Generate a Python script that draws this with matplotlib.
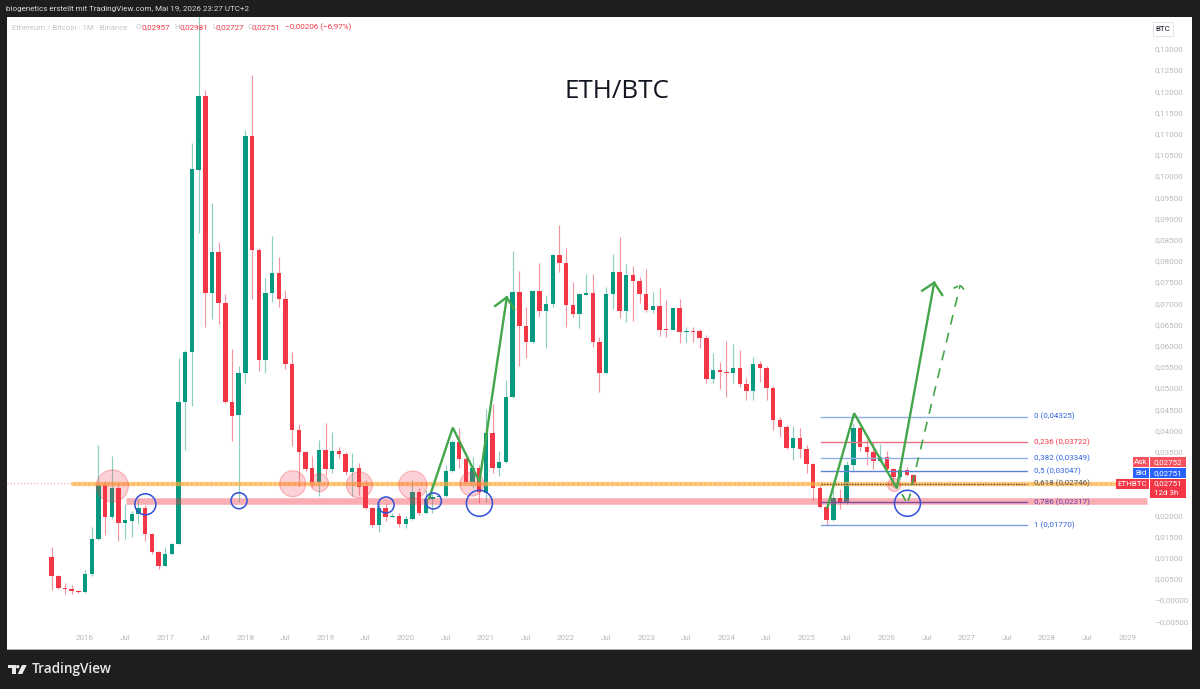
import numpy as np
import matplotlib
matplotlib.use('Agg')
import matplotlib.pyplot as plt
from matplotlib.patches import Rectangle, Polygon, Circle
from matplotlib.transforms import Affine2D

W, H = 1200, 689

# monthly candles, month index 0 = Jan 2016
months = np.arange(-5, 125)
opens = [.01007, .00566, .0029, .0027, .0022, .0020, .0061, .0143, .0271, .0196,
         .0264, .0182, .0187, .0202, .0216, .0156, .0114, .0080, .0108, .0132,
         .04677, .05842, .10142, .11894, .07233, .0820, .06998, .04677, .04363, .05347,
         .10943, .08255, .0566, .07248, .07719, .07092, .05566, .0401, .03498, .03106,
         .0279, .03538, .03083, .03521, .03436, .03019, .03106, .02689, .02163, .01769,
         .02163, .01965, .01981, .01785, .0191, .02554, .02045, .02375, .02436, .02453,
         .03042, .03719, .03325, .0279, .03106, .02524, .03946, .03106, .03248, .04795,
         .07271, .06469, .06092, .07288, .06823, .06981, .08137, .07941, .06958, .06745,
         .072, .07233, .06078, .05361, .0721, .07743, .06823, .07665, .07524, .0721,
         .0684, .06934, .06392, .06375, .06878, .06328, .06344, .06344, .06186, .05212,
         .05425, .05377, .05347, .05465, .05094, .04936, .05559, .05465, .04993, .04245,
         .04087, .03578, .03828, .03554, .03208, .02634, .02186, .01887, .02399, .02295,
         .03184, .0405, .03616, .03498, .03285, .0338, .0309, .02894, .03066, .02957]
highs = [.01257, .0059, .0039, .0036, .0024, .0071, .0171, .0366, .0281, .0340,
         .0275, .0226, .0210, .0238, .0224, .0159, .0116, .0126, .0135, .05708,
         .0590, .10778, .1560, .12028, .09363, .0845, .07217, .05913, .05519, .11085,
         .12382, .0829, .07594, .08585, .08097, .07311, .05856, .04151, .03521, .03396,
         .03774, .04167, .03969, .03601, .03498, .03474, .03224, .0283, .02186, .02295,
         .02295, .02059, .02045, .01988, .0283, .02634, .02594, .02517, .0247, .03184,
         .03774, .0405, .0342, .0338, .03184, .04498, .04623, .03521, .05189, .08238,
         .07767, .06917, .07311, .07955, .07193, .0816, .08844, .08295, .07507, .07248,
         .07689, .07689, .06196, .07389, .0816, .08568, .07925, .07884, .07611, .078,
         .07271, .07351, .07075, .0691, .07092, .06432, .06446, .06384, .0625, .05818,
         .0562, .06108, .06038, .05896, .05229, .05738, .05644, .05526, .05047, .04323,
         .04127, .04104, .04068, .03656, .03231, .02736, .02217, .02594, .02611, .03278,
         .04175, .04104, .03774, .03733, .03672, .03514, .03113, .03184, .03144, .02981]
lows = [.00236, .0025, .0014, .0014, .0017, .0017, .0057, .0142, .0153, .0190,
        .0138, .0145, .0149, .0179, .0140, .0108, .0074, .0079, .0105, .0131,
        .03538, .04575, .08663, .06446, .0662, .0651, .04646, .03757, .02318, .05111,
        .07099, .05401, .05361, .07035, .0691, .05441, .03632, .027, .0305, .02658,
        .02453, .02948, .03002, .03349, .02948, .02453, .02476, .02139, .01715, .01611,
        .0187, .0195, .01715, .01691, .01887, .02005, .02028, .02045, .0242, .02429,
        .03026, .03106, .02752, .02642, .02281, .02318, .02988, .02925, .03231, .04764,
        .05519, .057, .06061, .06667, .05936, .06917, .07743, .06446, .06667, .06408,
        .07193, .05974, .04913, .0533, .06863, .06644, .0655, .06587, .06998, .06785,
        .06776, .06233, .0621, .06368, .06054, .06092, .06092, .05936, .05111, .05111,
        .04976, .04795, .05111, .05031, .04717, .04717, .05149, .04717, .04009, .03837,
        .03561, .03302, .03349, .02988, .02358, .02163, .01769, .0187, .02139, .02264,
        .03026, .03521, .03184, .0309, .03262, .03066, .02672, .0283, .02925, .02727]
closes = [.00566, .0029, .0026, .0021, .0020, .0061, .0143, .0271, .0196, .0264,
          .0182, .0189, .0202, .0216, .0155, .0112, .0080, .0108, .0132, .04677,
          .05842, .10158, .11894, .07233, .0820, .06998, .04677, .0434, .05347, .10943,
          .08255, .0566, .07248, .07719, .07092, .05566, .0401, .03498, .03083, .0279,
          .03538, .03083, .03521, .03436, .03026, .03106, .02672, .02163, .01769, .02163,
          .01965, .01988, .01785, .0191, .02554, .02045, .02375, .02436, .02453, .03042,
          .03719, .03325, .0279, .03106, .02554, .03946, .03106, .03248, .04795, .07271,
          .06469, .06092, .07288, .06823, .06981, .08137, .07941, .06958, .06745, .0721,
          .07233, .06078, .05361, .0721, .07743, .06823, .07665, .07524, .0721, .0684,
          .06934, .06368, .06375, .06894, .06328, .06344, .06328, .06186, .05212, .05425,
          .05377, .05347, .05465, .05094, .04936, .05559, .05465, .04993, .04245, .04087,
          .03578, .03828, .03554, .03208, .02634, .02186, .01887, .02399, .02295, .03184,
          .0405, .03616, .03498, .03285, .0338, .0309, .02894, .03066, .02957, .02751]

fib_ratios = ['0', '0,236', '0,382', '0,5', '0,618', '0,786', '1']
fib_prices = [.04325, .03722, .03349, .03047, .02746, .02317, .01770]
fib_line_colors = ['#8fb0ea', '#e8737f', '#8fb0ea', '#5f85d8', '#5a4a3a', '#7b4ea3', '#7f9fe0']
fib_text_colors = ['#2f62e0', '#f23645', '#2f62e0', '#2f62e0', '#555555', '#6a3fa8', '#2f62e0']

# support / resistance zones
orange_band = ([-1.84, 154.3], [.02737, .02737])
pink_band = ([6.14, 159.0], [.02335, .02335])

pink_x = [4.09, 31.09, 35.07, 41.06, 49.06, 57.89, 121.1]
pink_y = [.02689, .02743, .02767, .02712, .02712, .02736, .02712]
pink_d = [32, 26, 18, 26, 28, 24, 13]

blue_x = [9.03, 23.05, 45.06, 52.14, 59.03, 123.1]
blue_y = [.02257, .02342, .02241, .02335, .02281, .02281]
blue_d = [21, 16, 16, 16, 26, 26]

swing1_x = [51.5, 55.04, 59.03, 63.13]
swing1_y = [.02399, .04064, .0279, .07139]
head1_x = [61.38, 63.13, 64.22]
head1_y = [.06934, .07139, .06856]
swing2_x = [111.12, 115.12, 121.5, 127.1]
swing2_y = [.02186, .04403, .02634, .07484]
head2_x = [125.3, 127.1, 128.3]
head2_y = [.07295, .07484, .07193]
dashed_x = [123.76, 130.99]
dashed_y = [.02712, .07429]
head3_x = [129.99, 130.99, 131.84]
head3_y = [.07351, .07429, .07271]
tick_x = [122.35, 122.75, 123.25, 123.5]
tick_y = [.02476, .02358, .02358, .02493]

year_ticks = np.arange(0, 157, 12)
year_labels = ['2016', '2017', '2018', '2019', '2020', '2021', '2022', '2023',
               '2024', '2025', '2026', '2027', '2028', '2029']
jul_ticks = np.arange(6, 157, 12)
# 0.025 and 0.030 sit behind the price tags, so they get no label
price_ticks = [-0.005, 0.0, 0.005, 0.01, 0.015, 0.02, 0.035, 0.04, 0.045, 0.05, 0.055,
               0.06, 0.065, 0.07, 0.075, 0.08, 0.085, 0.09, 0.095, 0.10, 0.105, 0.11,
               0.115, 0.12, 0.125, 0.13]

GREEN = '#089981'
RED = '#F23645'
GREEN_WICK = '#8fcfc2'
RED_WICK = '#f593a0'
LINE_GREEN = '#43a64a'
GRAY_TXT = '#b6b9bf'
DARK = '#1e1e1e'
SMALL = 5.8

plt.rcParams['font.family'] = ['Roboto', 'DejaVu Sans']

fig = plt.figure(figsize=(12, 6.89), dpi=100, facecolor=DARK)
# pixel coordinates with the origin top left, for the window chrome
pix = Affine2D().scale(1 / W, -1 / H).translate(0, 1) + fig.transFigure


def box(x0, y0, x1, y1, color, **kw):
    fig.add_artist(Rectangle((x0, y0), x1 - x0, y1 - y0, transform=pix,
                             facecolor=color, edgecolor='none', **kw))


def label(x, y, s, size=SMALL, color='white', ha='left', **kw):
    fig.text(x, y, s, transform=pix, fontsize=size, color=color, ha=ha, va='center', **kw)


box(7, 17, 1192, 649, 'white', zorder=-5)
box(7, 649, 1192, 650, '#a8a8a8', zorder=-5)

ax = fig.add_axes([7 / W, 1 - 649 / H, 1141 / W, 632 / H], facecolor='none')
ax.set_xlim(-11.68, 159.1)
ax.set_ylim(-0.01156, 0.1375)
for sp in ax.spines.values():
    sp.set_visible(False)

# candles
for m, o, h, l, c in zip(months, opens, highs, lows, closes):
    up = c >= o
    ax.vlines(m, l, h, color=GREEN_WICK if up else RED_WICK, lw=0.85, zorder=2)
    ax.bar(m, abs(c - o), bottom=min(o, c), width=0.66,
           color=GREEN if up else RED, zorder=2.5)

# last price line
ax.axhline(closes[-1], color='#f4a0a8', lw=0.8, ls=(0, (1, 2)), zorder=1)

# zones
ax.plot(*orange_band, color='#ffb74d', lw=3.2, alpha=0.65, solid_capstyle='round', zorder=3)
ax.plot(*orange_band, color='#ff9800', lw=2.2, alpha=0.3, ls=(0, (0.8, 0.8)), zorder=3)
ax.plot(*pink_band, color=RED, lw=4.75, alpha=0.4, solid_capstyle='butt', zorder=3)

ax.scatter(pink_x, pink_y, s=(np.array(pink_d) * 0.72) ** 2, facecolor=(0.95, 0.21, 0.27, 0.22),
           edgecolor=(0.95, 0.21, 0.27, 0.3), lw=0.9, zorder=4)
ax.scatter(blue_x, blue_y, s=(np.array(blue_d) * 0.72) ** 2, facecolor='none',
           edgecolor='#2f50d8', lw=1.1, zorder=6)

# fibonacci retracement
for ratio, price, lc, tc in zip(fib_ratios, fib_prices, fib_line_colors, fib_text_colors):
    ax.plot([110.2, 141.0], [price, price], color=lc, lw=1.0,
            ls=(0, (1, 1)) if ratio == '0,618' else '-', zorder=3.5)
    ax.text(142.0, price, ratio + ' (' + f'{price:.5f}'.replace('.', ',') + ')',
            color=tc, fontsize=SMALL, va='center', ha='left', zorder=7)

# projected swings
for xs, ys in [(swing1_x, swing1_y), (head1_x, head1_y), (swing2_x, swing2_y), (head2_x, head2_y)]:
    ax.plot(xs, ys, color=LINE_GREEN, lw=1.7, solid_joinstyle='miter', zorder=5)
ax.plot(dashed_x, dashed_y, color=LINE_GREEN, lw=1.2, ls=(0, (6, 5)), zorder=5)
ax.plot(head3_x, head3_y, color=LINE_GREEN, lw=1.2, ls=(0, (3, 2)), zorder=5)
ax.plot(tick_x[:2], tick_y[:2], color=LINE_GREEN, lw=1.2, zorder=5)
ax.plot(tick_x[2:], tick_y[2:], color=LINE_GREEN, lw=1.2, zorder=5)

label(617, 91, 'ETH/BTC', size=18.7, color='#131722', ha='center', family=['Open Sans', 'DejaVu Sans'])

# axes ticks
ax.set_xticks(np.concatenate([year_ticks, jul_ticks]))
ax.set_xticklabels(year_labels + ['Jul'] * len(jul_ticks))
ax.tick_params(axis='x', length=0, pad=-10, labelsize=SMALL, labelcolor=GRAY_TXT)
ax.yaxis.tick_right()
ax.set_yticks(price_ticks)
ax.set_yticklabels(['\u22120,00500', '\u22120,00000'] +
                   [f'{p:.5f}'.replace('.', ',') for p in price_ticks[2:]])
ax.tick_params(axis='y', length=0, pad=5, labelsize=SMALL, labelcolor=GRAY_TXT)

# currency box on the price scale
fig.add_artist(Rectangle((1153, 22), 20, 14, transform=pix, facecolor='white',
                         edgecolor='#e3e4e8', lw=0.7))
label(1163, 29, 'BTC', color='#131722', ha='center')

# header strip and legend
label(6, 9, 'biogenetics erstellt mit TradingView.com, Mai 19, 2026 23:27 UTC+2',
      size=5.8, color='#d9dade')
label(12, 27, 'Ethereum / Bitcoin \u00b7 1M \u00b7 Binance', size=5.7, color='#c4c6cc')
for x, s in [(136, 'O'), (174, 'H'), (212, 'L'), (248, 'C')]:
    label(x, 27, s, color='#c4c6cc')
for x, s in [(141, '0,02957'), (179, '0,02981'), (215.5, '0,02727'), (252, '0,02751'),
             (285, '\u22120,00206 (\u22126,97%)')]:
    label(x, 27, s, color=RED)

# price tags on the right
box(1132.5, 456.7, 1149, 466.7, '#f7525f', zorder=8)
box(1150, 456.7, 1186, 466.7, '#f7525f', zorder=8)
box(1132.5, 467.7, 1149, 477.7, '#2962ff', zorder=8)
box(1150, 467.7, 1186, 477.7, '#2962ff', zorder=8)
box(1116, 479, 1148.5, 488.8, RED, zorder=8)
box(1150, 479, 1186, 498, RED, zorder=8)
label(1141, 461.8, 'Ask', ha='center', zorder=9)
label(1168, 461.8, '0,02752', ha='center', zorder=9)
label(1141, 472.8, 'Bid', ha='center', zorder=9)
label(1168, 472.8, '0,02751', ha='center', zorder=9)
label(1132, 484, 'ETHBTC', ha='center', zorder=9)
label(1168, 483.5, '0,02751', ha='center', zorder=9)
label(1166, 492.8, '12d 3h', ha='center', zorder=9)

# TradingView logo
logo = '#e9e9ea'
box(7.7, 665, 15.7, 668.3, logo)
box(11.7, 668.3, 15.7, 674, logo)
fig.add_artist(Circle((17.7, 666.7), 1.7, transform=pix, facecolor=logo, edgecolor='none'))
fig.add_artist(Polygon([(22, 665), (26.7, 665), (22.3, 674), (17.7, 674)], transform=pix,
                       facecolor=logo, edgecolor='none'))
label(32, 669.5, 'TradingView', size=9.8, color=logo, family=['Open Sans', 'DejaVu Sans'], weight='semibold')

fig.savefig('out.png', dpi=100, facecolor=DARK)
